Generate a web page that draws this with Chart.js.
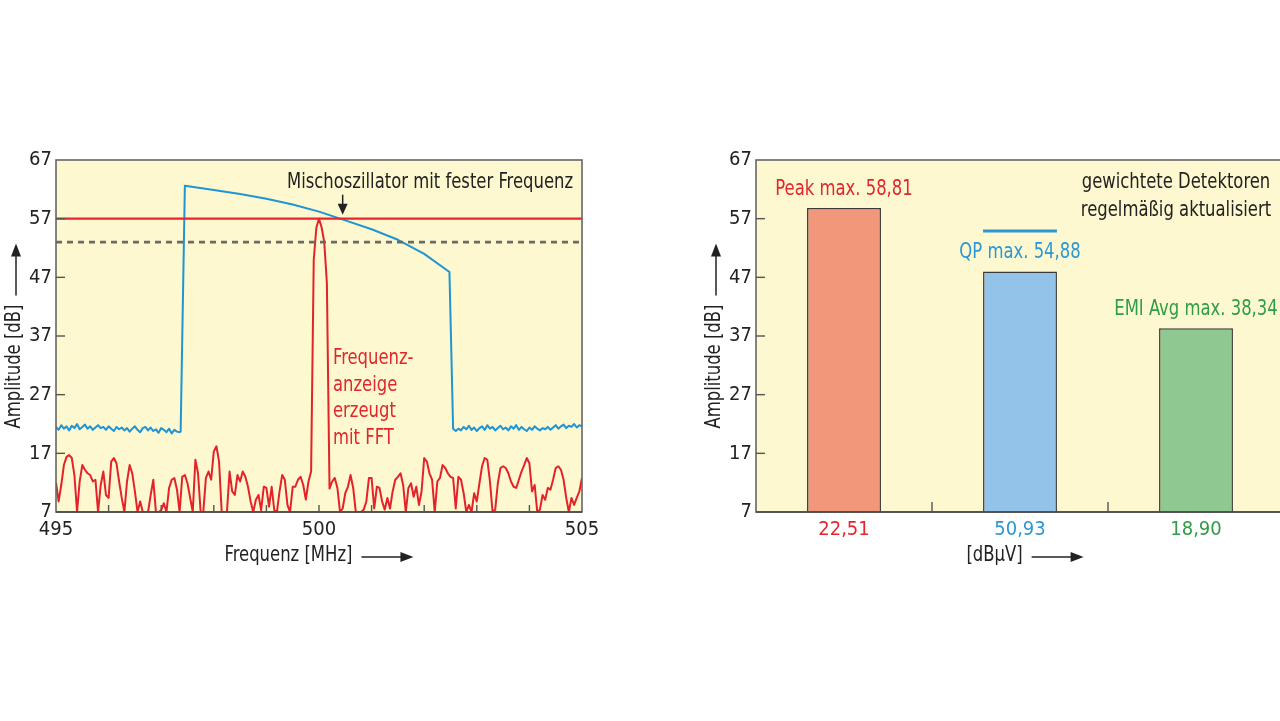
<!DOCTYPE html>
<html>
<head>
<meta charset="utf-8">
<script src="https://cdn.jsdelivr.net/npm/chart.js@4.4.1/dist/chart.umd.min.js"></script>
<style>
  html, body { margin: 0; padding: 0; background: #fff; width: 1280px; height: 721px; overflow: hidden; }
  canvas { position: absolute; top: 140px; }
  #spec { left: 0; }
  #det { left: 700px; }
</style>
</head>
<body>
<canvas id="spec" width="600" height="440"></canvas>
<canvas id="det" width="600" height="440"></canvas>
<script>
// Spektrum links: Frequenzachse + Amplituden
const yTicks = [7, 17, 27, 37, 47, 57, 67];
const freqMin = 495, freqMax = 505;
const refLevel = 57;       // rote Linie
const dashLevel = 53;      // gestrichelte Linie
const mixerFreq = 500.45;  // Pfeil "Mischoszillator"

// rote FFT-Kurve, Raster 0,05 MHz ab 495 MHz
const redStep = 0.05;
const redAmp = [
  12.0, 8.8, 11.6, 15.0, 16.4, 16.7, 16.2, 13.3, 7.0, 12.2,
  15.0, 14.2, 13.6, 13.3, 12.2, 12.5, 7.0, 11.6, 13.9, 9.9,
  9.4, 15.6, 16.2, 15.3, 12.2, 9.4, 7.0, 12.2, 15.0, 13.6,
  10.5, 7.0, 8.8, 7.0, 7.0, 7.0, 9.9, 12.5, 7.0, 7.0,
  7.3, 8.5, 7.0, 11.1, 12.5, 12.8, 10.8, 7.0, 13.0, 13.3,
  11.9, 9.4, 7.0, 15.9, 13.6, 7.0, 7.0, 12.8, 13.9, 12.5,
  17.3, 18.2, 15.6, 7.0, 7.0, 7.0, 13.9, 10.5, 9.9, 13.3,
  12.2, 13.9, 13.0, 11.3, 8.8, 7.0, 9.1, 9.9, 7.3, 11.3,
  11.1, 7.9, 11.3, 7.3, 7.0, 10.5, 13.3, 12.5, 8.2, 7.0,
  11.3, 11.3, 12.5, 13.0, 11.6, 9.1, 12.2, 13.9, 50.0, 55.5,
  57.0, 55.5, 53.0, 46.0, 11.0, 12.2, 12.8, 11.1, 7.0, 7.6,
  10.2, 11.3, 13.3, 11.1, 7.0, 7.0, 7.0, 7.4, 8.8, 12.8,
  12.8, 7.6, 11.3, 11.1, 8.8, 7.4, 9.4, 7.6, 10.5, 12.5,
  13.0, 13.6, 11.6, 7.0, 11.1, 11.9, 9.6, 11.3, 8.2, 10.5,
  16.2, 15.6, 13.6, 12.5, 7.0, 12.2, 12.8, 15.0, 14.5, 13.6,
  13.0, 12.8, 7.6, 13.0, 12.5, 10.2, 7.0, 8.2, 7.0, 10.2,
  8.8, 11.9, 14.8, 16.2, 15.9, 12.2, 7.0, 7.4, 11.9, 14.5,
  14.8, 14.5, 13.6, 12.2, 11.3, 11.1, 12.5, 13.9, 15.0, 16.2,
  15.3, 10.5, 11.6, 7.0, 7.4, 9.9, 9.1, 11.1, 10.8, 12.5,
  14.5, 14.8, 14.2, 12.5, 9.4, 7.0, 9.4, 8.2, 9.4, 10.5,
  12.8
];

// blaue Kurve: Rauschen links, Signalband, Rauschen rechts
const blueStep = 0.05;
const blueLeftStart = 495;
const blueLeftAmp = [
  21.5, 21.0, 21.8, 21.2, 21.6, 20.9, 21.7, 21.3, 22.0, 21.1,
  21.5, 21.9, 21.2, 21.6, 21.0, 21.4, 21.8, 21.3, 21.5, 21.0,
  21.6, 21.2, 20.8, 21.5, 21.1, 21.4, 20.9, 21.3, 20.7, 21.2,
  21.6, 21.0, 20.6, 21.3, 21.5, 20.9, 21.4, 20.8, 21.1, 20.5,
  21.3, 21.0, 20.6, 21.2, 20.4, 21.0, 20.7, 20.6
];
const blueBandFreq = [497.37, 497.45, 498.0, 498.5, 499.0, 499.5, 500.0, 500.5, 501.0, 501.5, 502.0, 502.48, 502.55];
const blueBandAmp  = [20.7, 62.6, 61.9, 61.2, 60.4, 59.4, 58.2, 56.7, 55.2, 53.4, 51.0, 47.9, 21.2];
const blueRightStart = 502.6;
const blueRightAmp = [
  20.8, 21.2, 20.9, 21.5, 21.1, 21.7, 21.0, 21.4, 20.8, 21.3,
  21.6, 21.0, 21.8, 21.2, 21.5, 20.9, 21.3, 21.7, 21.1, 21.4,
  20.9, 21.6, 21.2, 21.8, 21.0, 21.5, 21.1, 20.8, 21.4, 21.0,
  21.6, 21.2, 20.9, 21.3, 21.1, 21.5, 21.0, 21.4, 21.8, 21.2,
  21.6, 21.9, 21.3, 21.7, 21.5, 22.0, 21.4, 21.8, 21.6
];

// Detektoren rechts
const detNames = ["Peak", "QP", "EMI Avg"];
const detCurrent = [58.81, 48.0, 38.34];
const detMax = [58.81, 54.88, 38.34];
const detLevel = ["22,51", "50,93", "18,90"];
const detFill = ["#f3977b", "#94c3ea", "#8fc991"];
const detText = ["#e1262e", "#2c97d4", "#2e9d46"];

const FONT = '"Liberation Sans Narrow", "DejaVu Sans Condensed", "Arial Narrow", sans-serif';
const SX = 0.87;   // schmale Schrift nachbilden
const INK = "#222";
const PLOT_BG = "#fdf8cf";
Chart.defaults.font.family = FONT;
Chart.defaults.font.size = 20;
Chart.defaults.color = INK;

const fmt = v => v.toFixed(2).replace(".", ",");
const grid = (start, step, arr) => arr.map((y, i) => ({ x: +(start + i * step).toFixed(3), y: y }));

const redPoints = grid(freqMin, redStep, redAmp);
const bluePoints = grid(blueLeftStart, blueStep, blueLeftAmp)
  .concat(blueBandFreq.map((f, i) => ({ x: f, y: blueBandAmp[i] })))
  .concat(grid(blueRightStart, blueStep, blueRightAmp));

function narrowText(ctx, text, x, y, align) {
  ctx.save();
  ctx.translate(x, y);
  ctx.scale(SX, 1);
  ctx.textAlign = align;
  ctx.textBaseline = "middle";
  ctx.fillText(text, 0, 0);
  ctx.restore();
}

// Achsentitel mit Pfeil
function arrowTitle(ctx, text, cx, cy, vertical) {
  ctx.save();
  ctx.font = "21px " + FONT;
  ctx.fillStyle = INK;
  ctx.strokeStyle = INK;
  const tw = ctx.measureText(text).width * SX;
  const gap = 9, len = 52;
  const total = tw + gap + len;
  ctx.translate(cx, cy);
  if (vertical) ctx.rotate(-Math.PI / 2);
  narrowText(ctx, text, -total / 2, 0, "left");
  const x0 = -total / 2 + tw + gap, x1 = total / 2;
  ctx.lineWidth = 1.5;
  ctx.beginPath(); ctx.moveTo(x0, 1); ctx.lineTo(x1 - 8, 1); ctx.stroke();
  ctx.beginPath(); ctx.moveTo(x1, 1); ctx.lineTo(x1 - 13, -4); ctx.lineTo(x1 - 13, 6); ctx.closePath(); ctx.fill();
  ctx.restore();
}

function plotFrame(chart) {
  const { ctx, chartArea: a } = chart;
  ctx.save();
  ctx.strokeStyle = "#666";
  ctx.lineWidth = 1.6;
  ctx.strokeRect(a.left, a.top, a.right - a.left, a.bottom - a.top);
  ctx.strokeStyle = "#444";
  ctx.beginPath(); ctx.moveTo(a.left, a.bottom); ctx.lineTo(a.right, a.bottom); ctx.stroke();
  // Teilstriche nach innen
  const y = chart.scales.y;
  ctx.lineWidth = 1.4;
  ctx.strokeStyle = "#555";
  yTicks.slice(1, -1).forEach(v => {
    const py = y.getPixelForValue(v);
    ctx.beginPath(); ctx.moveTo(a.left, py); ctx.lineTo(a.left + 9, py); ctx.stroke();
  });
  ctx.restore();
}

const bgPlugin = {
  id: "plotBg",
  beforeDraw(chart) {
    const { ctx, chartArea: a } = chart;
    ctx.save();
    ctx.fillStyle = PLOT_BG;
    ctx.fillRect(a.left, a.top, a.right - a.left, a.bottom - a.top);
    ctx.restore();
  }
};

const specDecor = {
  id: "specDecor",
  afterDraw(chart) {
    const { ctx, chartArea: a } = chart;
    const xs = chart.scales.x, ys = chart.scales.y;
    plotFrame(chart);
    ctx.save();
    ctx.strokeStyle = "#555";
    ctx.lineWidth = 1.4;
    for (let f = freqMin + 1; f < freqMax; f++) {
      const px = xs.getPixelForValue(f);
      ctx.beginPath(); ctx.moveTo(px, a.bottom); ctx.lineTo(px, a.bottom - 7); ctx.stroke();
    }
    // Mischoszillator
    ctx.font = "21px " + FONT;
    ctx.fillStyle = INK;
    narrowText(ctx, "Mischoszillator mit fester Frequenz", 430, a.top + 23, "center");
    const mx = xs.getPixelForValue(mixerFreq);
    const tip = ys.getPixelForValue(refLevel) - 4;
    ctx.strokeStyle = INK;
    ctx.lineWidth = 1.5;
    ctx.beginPath(); ctx.moveTo(mx, tip - 20); ctx.lineTo(mx, tip - 8); ctx.stroke();
    ctx.beginPath(); ctx.moveTo(mx, tip); ctx.lineTo(mx - 5, tip - 11); ctx.lineTo(mx + 5, tip - 11); ctx.closePath(); ctx.fill();
    // FFT-Beschriftung
    ctx.fillStyle = "#e1262e";
    const fx = xs.getPixelForValue(500) + 14;
    ["Frequenz-", "anzeige", "erzeugt", "mit FFT"].forEach((t, i) => {
      narrowText(ctx, t, fx, 219 + i * 26.5, "left");
    });
    ctx.restore();
    arrowTitle(ctx, "Frequenz [MHz]", (a.left + a.right) / 2, 416, false);
    arrowTitle(ctx, "Amplitude [dB]", 15, (a.top + a.bottom) / 2, true);
  }
};

new Chart(document.getElementById("spec"), {
  type: "line",
  data: {
    datasets: [
      {
        data: [{ x: freqMin, y: refLevel }, { x: freqMax, y: refLevel }],
        borderColor: "#e8242c", borderWidth: 2.2
      },
      {
        data: [{ x: freqMin, y: dashLevel }, { x: freqMax, y: dashLevel }],
        borderColor: "#6b6b63", borderWidth: 2.6, borderDash: [6, 5]
      },
      {
        data: bluePoints,
        borderColor: "#1f95d5", borderWidth: 2
      },
      {
        data: redPoints,
        borderColor: "#e4222a", borderWidth: 2
      }
    ]
  },
  options: {
    responsive: false,
    animation: false,
    layout: { padding: { top: 20, right: 18, left: 0, bottom: 0 } },
    elements: { point: { radius: 0 }, line: { tension: 0, borderJoinStyle: "round" } },
    plugins: { legend: { display: false }, tooltip: { enabled: false } },
    scales: {
      x: {
        type: "linear",
        min: freqMin, max: freqMax,
        grid: { display: false, drawTicks: false },
        border: { display: false },
        ticks: {
          stepSize: 1, autoSkip: false, maxRotation: 0, padding: 6,
          callback: v => (v % 5 === 0 ? String(v) : "")
        },
        afterFit: s => { s.height = 68; s.paddingLeft = 0; s.paddingRight = 0; }
      },
      y: {
        min: yTicks[0], max: yTicks[yTicks.length - 1],
        grid: { display: false, drawTicks: false },
        border: { display: false },
        ticks: { stepSize: 10, padding: 4 },
        afterFit: s => { s.width = 56; }
      }
    }
  },
  plugins: [bgPlugin, specDecor]
});

const detDecor = {
  id: "detDecor",
  afterDraw(chart) {
    const { ctx, chartArea: a } = chart;
    const xs = chart.scales.x, ys = chart.scales.y;
    const bars = chart.getDatasetMeta(0).data;
    plotFrame(chart);
    ctx.save();
    ctx.strokeStyle = "#555";
    ctx.lineWidth = 1.4;
    for (let i = 0; i < detLevel.length - 1; i++) {
      const px = (xs.getPixelForValue(i) + xs.getPixelForValue(i + 1)) / 2;
      ctx.beginPath(); ctx.moveTo(px, a.bottom); ctx.lineTo(px, a.bottom - 10); ctx.stroke();
    }
    ctx.font = "21px " + FONT;
    bars.forEach((b, i) => {
      if (detMax[i] > detCurrent[i]) {
        const py = ys.getPixelForValue(detMax[i]);
        ctx.strokeStyle = detText[i];
        ctx.lineWidth = 3;
        ctx.beginPath(); ctx.moveTo(b.x - b.width / 2, py); ctx.lineTo(b.x + b.width / 2, py); ctx.stroke();
      }
      ctx.fillStyle = detText[i];
      narrowText(ctx, detNames[i] + " max. " + fmt(detMax[i]), b.x, b.y - 19, "center");
    });
    ctx.fillStyle = INK;
    narrowText(ctx, "gewichtete Detektoren", a.right - 108, 43, "center");
    narrowText(ctx, "regelmäßig aktualisiert", a.right - 108, 71, "center");
    ctx.restore();
    arrowTitle(ctx, "[dBµV]", (a.left + a.right) / 2 + 5, 416, false);
    arrowTitle(ctx, "Amplitude [dB]", 15, (a.top + a.bottom) / 2, true);
  }
};

new Chart(document.getElementById("det"), {
  type: "bar",
  data: {
    labels: detLevel,
    datasets: [{
      data: detCurrent,
      base: yTicks[0],
      backgroundColor: detFill,
      borderColor: "#3b3b3b",
      borderWidth: 1.5,
      borderSkipped: "start",
      barPercentage: 0.42,
      categoryPercentage: 1
    }]
  },
  options: {
    responsive: false,
    animation: false,
    layout: { padding: { top: 20, right: 16, left: 0, bottom: 0 } },
    plugins: { legend: { display: false }, tooltip: { enabled: false } },
    scales: {
      x: {
        grid: { display: false, drawTicks: false },
        border: { display: false },
        ticks: { padding: 6, color: c => detText[c.index] },
        afterFit: s => { s.height = 68; s.paddingLeft = 0; s.paddingRight = 0; }
      },
      y: {
        min: yTicks[0], max: yTicks[yTicks.length - 1],
        grid: { display: false, drawTicks: false },
        border: { display: false },
        ticks: { stepSize: 10, padding: 4 },
        afterFit: s => { s.width = 56; }
      }
    }
  },
  plugins: [bgPlugin, detDecor]
});
</script>
</body>
</html>
